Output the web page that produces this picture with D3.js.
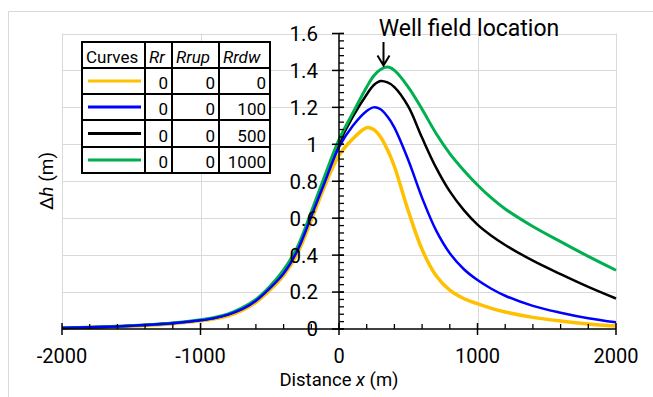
<!DOCTYPE html>
<html>
<head>
<meta charset="utf-8">
<script src="https://cdn.jsdelivr.net/npm/d3@7.9.0/dist/d3.min.js"></script>
<style>
  body { margin: 0; background: #fff; }
  svg { display: block; font-family: Roboto, "Noto Sans", sans-serif; }
</style>
</head>
<body>
<svg id="chart" width="653" height="397"></svg>
<script>
// distance from the well field (m)
const distance = [-2000, -1800, -1600, -1400, -1200, -1000, -900, -800, -700, -600, -500, -400, -300, -200, -100,
  0, 100, 200, 250, 300, 350, 400, 500, 600, 700, 800, 900, 1000, 1100, 1200, 1400, 1600, 1800, 2000];

// head change (m) for each curve
const rrdw0 = [0.005, 0.008, 0.013, 0.019, 0.029, 0.044, 0.055, 0.072, 0.10, 0.145, 0.21, 0.29, 0.41, 0.59, 0.78,
  0.94, 1.03, 1.09, 1.08, 1.04, 0.97, 0.88, 0.64, 0.43, 0.29, 0.21, 0.165, 0.137, 0.112, 0.092, 0.063, 0.043, 0.027, 0.016];
const rrdw100 = [0.006, 0.009, 0.014, 0.021, 0.031, 0.047, 0.059, 0.078, 0.107, 0.153, 0.22, 0.30, 0.425, 0.61, 0.80,
  0.985, 1.10, 1.18, 1.20, 1.19, 1.15, 1.09, 0.915, 0.71, 0.535, 0.41, 0.325, 0.265, 0.218, 0.18, 0.125, 0.088, 0.058, 0.036];
const rrdw500 = [0.006, 0.009, 0.014, 0.021, 0.032, 0.048, 0.06, 0.079, 0.11, 0.156, 0.225, 0.31, 0.435, 0.62, 0.82,
  1.005, 1.15, 1.27, 1.32, 1.343, 1.335, 1.31, 1.205, 1.035, 0.875, 0.745, 0.645, 0.565, 0.505, 0.455, 0.37, 0.297, 0.228, 0.165];
const rrdw1000 = [0.007, 0.010, 0.015, 0.022, 0.033, 0.05, 0.062, 0.082, 0.114, 0.16, 0.23, 0.32, 0.445, 0.635, 0.835,
  1.025, 1.17, 1.31, 1.37, 1.405, 1.418, 1.40, 1.31, 1.19, 1.06, 0.95, 0.86, 0.78, 0.71, 0.65, 0.555, 0.473, 0.393, 0.318];

// legend table
const tableHeader = ["Curves", "Rr", "Rrup", "Rrdw"];
const rrValues = [0, 0, 0, 0];
const rrupValues = [0, 0, 0, 0];
const rrdwValues = [0, 100, 500, 1000];
const curveColors = ["#FFC000", "#0000FF", "#000000", "#00B050"];
const curveWidths = [3.5, 2.5, 2.5, 3];

const xTicks = [-2000, -1000, 0, 1000, 2000];
const yTicks = [0, 0.2, 0.4, 0.6, 0.8, 1, 1.2, 1.4, 1.6];

const svg = d3.select("#chart");
svg.append("rect").attr("width", 653).attr("height", 397).attr("fill", "#fff");

// chart area border (only top/left visible)
svg.append("path").attr("d", "M8.5,397V11.5H653").attr("fill", "none").attr("stroke", "#d9d9d9");

const x = d3.scaleLinear().domain([-2000, 2000]).range([62, 616]);
const y = d3.scaleLinear().domain([0, 1.6]).range([329, 33.5]);

// gridlines
svg.append("g").selectAll("line").data(yTicks.slice(1)).join("line")
  .attr("x1", x(-2000)).attr("x2", x(2000))
  .attr("y1", d => Math.round(y(d)) + 0.5).attr("y2", d => Math.round(y(d)) + 0.5)
  .attr("stroke", "#d9d9d9");
svg.append("g").selectAll("line").data(xTicks.filter(d => d !== 0)).join("line")
  .attr("x1", d => Math.round(x(d)) + 0.5).attr("x2", d => Math.round(x(d)) + 0.5)
  .attr("y1", y(0)).attr("y2", y(1.6))
  .attr("stroke", "#d9d9d9");

// curves: draw order so the blue one sits on top on the left flank
const series = [
  { values: rrdw0, i: 0 },
  { values: rrdw500, i: 2 },
  { values: rrdw1000, i: 3 },
  { values: rrdw100, i: 1 }
];
const line = d3.line()
  .x((d, j) => x(distance[j]))
  .y(d => y(d))
  .curve(d3.curveCatmullRom.alpha(0.5));

svg.append("g").selectAll("path").data(series).join("path")
  .attr("d", d => line(d.values))
  .attr("fill", "none")
  .attr("stroke", d => curveColors[d.i])
  .attr("stroke-width", d => curveWidths[d.i])
  .attr("stroke-linejoin", "round");

// x axis (at h = 0)
const xAxis = svg.append("g").attr("stroke", "#000");
xAxis.append("line").attr("x1", x(-2000)).attr("x2", x(2000))
  .attr("y1", y(0)).attr("y2", y(0)).attr("stroke-width", 1.5);
xAxis.selectAll(".minor").data(d3.range(-2000, 2001, 200).filter(d => d % 1000 !== 0)).join("line")
  .attr("x1", d => x(d)).attr("x2", d => x(d))
  .attr("y1", y(0)).attr("y2", y(0) - 5).attr("stroke-width", 1.3);
xAxis.selectAll(".major").data(xTicks).join("line")
  .attr("x1", d => x(d)).attr("x2", d => x(d))
  .attr("y1", y(0) - 6).attr("y2", y(0) + 6).attr("stroke-width", 1.5);

svg.append("g").selectAll("text").data(xTicks).join("text")
  .attr("x", d => x(d)).attr("y", 363)
  .attr("text-anchor", "middle").attr("font-size", 20)
  .text(d => d);

// y axis (at x = 0)
const yAxis = svg.append("g").attr("stroke", "#000");
yAxis.append("line").attr("x1", x(0)).attr("x2", x(0))
  .attr("y1", y(0)).attr("y2", y(1.6)).attr("stroke-width", 1.5);
yAxis.selectAll(".minor").data(d3.range(0, 1.6001, 0.04)).join("line")
  .attr("x1", x(0)).attr("x2", x(0) + 5)
  .attr("y1", d => y(d)).attr("y2", d => y(d)).attr("stroke-width", 1.3);
yAxis.selectAll(".major").data(yTicks).join("line")
  .attr("x1", x(0) - 7).attr("x2", x(0) + 5)
  .attr("y1", d => y(d)).attr("y2", d => y(d)).attr("stroke-width", 1.5);

svg.append("g").selectAll("text").data(yTicks).join("text")
  .attr("x", 318).attr("y", d => y(d))
  .attr("dy", "0.36em")
  .attr("text-anchor", "end").attr("font-size", 20.5)
  .text(d => d);

// axis titles
const xTitle = svg.append("text").attr("x", 339).attr("y", 385.5)
  .attr("text-anchor", "middle").attr("font-size", 18.5);
xTitle.append("tspan").text("Distance ");
xTitle.append("tspan").attr("font-style", "italic").text("x");
xTitle.append("tspan").text(" (m)");

const yTitle = svg.append("text")
  .attr("transform", "translate(53,181) rotate(-90)")
  .attr("text-anchor", "middle").attr("font-size", 19);
yTitle.append("tspan").text("Δ");
yTitle.append("tspan").attr("font-style", "italic").text("h");
yTitle.append("tspan").text(" (m)");

// well field annotation
svg.append("text").attr("x", 469).attr("y", 36)
  .attr("text-anchor", "middle").attr("font-size", 23)
  .text("Well field location");
svg.append("path")
  .attr("d", "M383.5,42V65M377.5,55.5L383.5,65.5L389.5,55.5")
  .attr("fill", "none").attr("stroke", "#000").attr("stroke-width", 2);

// legend table
const colX = [82, 145, 172, 219, 270];
const rowY = [42, 68, 94, 120, 147, 173];
const table = svg.append("g");
table.append("rect").attr("x", colX[0]).attr("y", rowY[0])
  .attr("width", colX[4] - colX[0]).attr("height", rowY[5] - rowY[0])
  .attr("fill", "#fff").attr("stroke", "#000").attr("stroke-width", 2);
table.selectAll(".col").data(colX.slice(1, 4)).join("line")
  .attr("x1", d => d).attr("x2", d => d).attr("y1", rowY[0]).attr("y2", rowY[5])
  .attr("stroke", "#000").attr("stroke-width", 2);
table.selectAll(".row").data(rowY.slice(1, 5)).join("line")
  .attr("x1", colX[0]).attr("x2", colX[4]).attr("y1", d => d).attr("y2", d => d)
  .attr("stroke", "#000").attr("stroke-width", 2);

table.selectAll(".head").data(tableHeader).join("text")
  .attr("x", (d, i) => colX[i] + 4).attr("y", rowY[1] - 5)
  .attr("font-size", 17)
  .attr("font-style", (d, i) => i === 0 ? "normal" : "italic")
  .text(d => d);

rrdwValues.forEach((v, r) => {
  const yMid = (rowY[r + 1] + rowY[r + 2]) / 2;
  table.append("line")
    .attr("x1", 88).attr("x2", 141).attr("y1", yMid).attr("y2", yMid)
    .attr("stroke", curveColors[r]).attr("stroke-width", 3);
  [rrValues[r], rrupValues[r], v].forEach((val, c) => {
    table.append("text")
      .attr("x", colX[c + 2] - 4).attr("y", rowY[r + 2] - 5)
      .attr("text-anchor", "end").attr("font-size", 17)
      .text(val);
  });
});
</script>
</body>
</html>
